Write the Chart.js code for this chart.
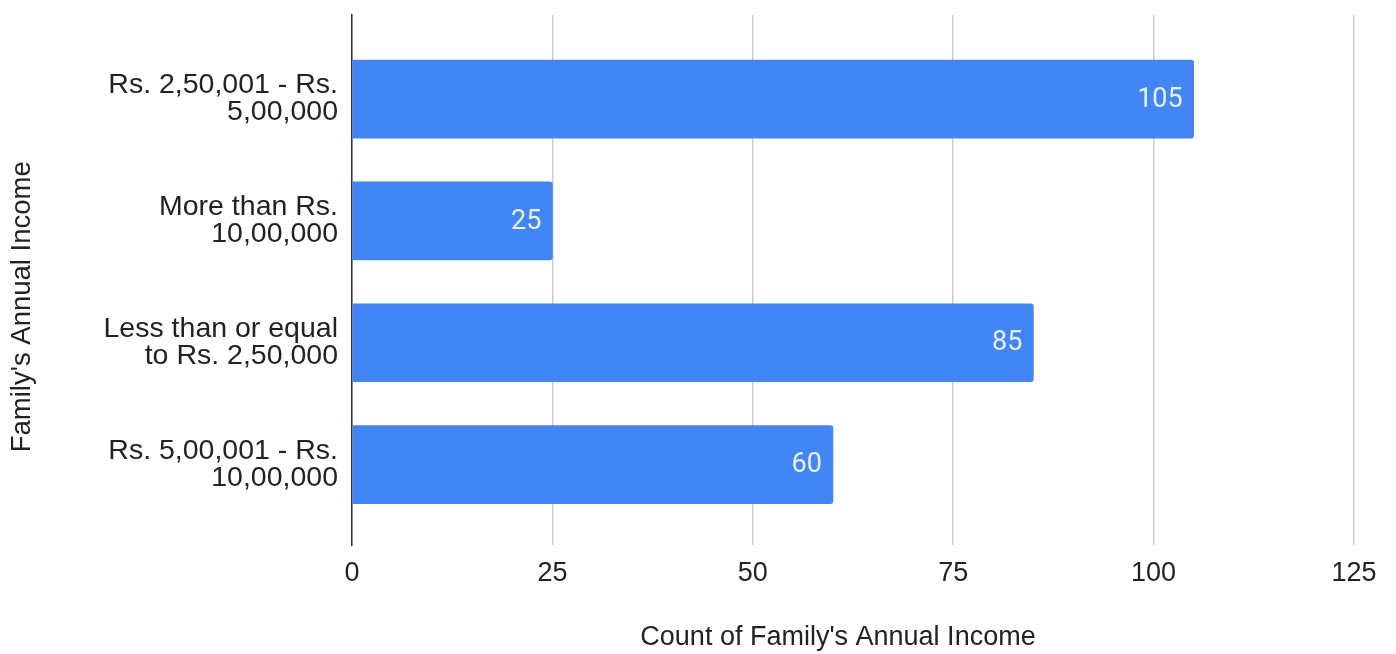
<!DOCTYPE html>
<html>
<head>
<meta charset="utf-8">
<script src="https://cdn.jsdelivr.net/npm/chart.js@4/dist/chart.umd.min.js"></script>
<style>
  html, body { margin: 0; padding: 0; background: #ffffff; }
  #wrap { width: 1396px; height: 654px; position: relative; }
</style>
</head>
<body>
<div id="wrap"><canvas id="c" width="1396" height="654"></canvas></div>
<script>
const categories = [
  "Rs. 2,50,001 - Rs. 5,00,000",
  "More than Rs. 10,00,000",
  "Less than or equal to Rs. 2,50,000",
  "Rs. 5,00,001 - Rs. 10,00,000"
];
const categoryTickLabels = [
  ["Rs. 2,50,001 - Rs.", "5,00,000"],
  ["More than Rs.", "10,00,000"],
  ["Less than or equal", "to Rs. 2,50,000"],
  ["Rs. 5,00,001 - Rs.", "10,00,000"]
];
const counts = [105, 25, 85, 60];
const xTicks = [0, 25, 50, 75, 100, 125];
const xTitle = "Count of Family's Annual Income";
const yTitle = "Family's Annual Income";

const points = categories.map((c, i) => ({ x: counts[i], y: i }));

const barLabels = {
  id: 'barLabels',
  afterDatasetsDraw(chart) {
    const ctx = chart.ctx;
    const meta = chart.getDatasetMeta(0);
    ctx.save();
    ctx.font = '27px Roboto, "Liberation Sans", Arial, sans-serif';
    ctx.fillStyle = 'rgba(255,255,255,0.88)';
    ctx.textAlign = 'right';
    ctx.textBaseline = 'middle';
    meta.data.forEach((el, i) => {
      ctx.fillText(String(counts[i]), el.x - 11, el.y + 1);
    });
    ctx.restore();
  }
};

Chart.defaults.font.family = '"Liberation Sans", Arial, sans-serif';

new Chart(document.getElementById('c'), {
  type: 'bar',
  data: {
    datasets: [{
      label: xTitle,
      data: points,
      backgroundColor: '#4285f4',
      borderWidth: 0,
      borderRadius: 3,
      barThickness: 78
    }]
  },
  plugins: [barLabels],
  options: {
    indexAxis: 'y',
    responsive: false,
    animation: false,
    maintainAspectRatio: false,
    layout: { padding: { left: 0, right: 42, top: 15, bottom: 0 } },
    plugins: {
      legend: { display: false },
      tooltip: { enabled: false }
    },
    scales: {
      x: {
        type: 'linear',
        position: 'bottom',
        min: 0,
        max: 125,
        afterBuildTicks(scale) { scale.ticks = xTicks.map(v => ({ value: v })); },
        afterFit(scale) { scale.height = 109; scale.paddingLeft = 0; scale.paddingRight = 0; },
        grid: {
          color: '#cccccc',
          lineWidth: 1.5,
          drawTicks: false
        },
        border: { display: false },
        ticks: {
          color: '#222222',
          padding: 12,
          font: { size: 27 }
        },
        title: {
          display: true,
          text: xTitle + '    ',
          color: '#222222',
          font: { size: 27 },
          padding: { top: 0, bottom: 0 }
        }
      },
      y: {
        type: 'linear',
        position: 'left',
        reverse: true,
        offset: false,
        min: -0.69,
        max: 3.66,
        afterBuildTicks(scale) { scale.ticks = categories.map((c, i) => ({ value: i })); },
        afterFit(scale) { scale.width = 352; scale.paddingTop = 0; scale.paddingBottom = 0; },
        grid: { display: false, drawTicks: false, offset: false },
        border: { display: true, color: '#333333', width: 1.5 },
        ticks: {
          color: '#222222',
          padding: 14,
          font: { size: 28.5, lineHeight: 0.95 },
          callback: (v) => categoryTickLabels[v] || ''
        },
        title: {
          display: true,
          text: yTitle + '       ',
          color: '#222222',
          font: { size: 27.5 },
          padding: { top: 6, bottom: 0 }
        }
      }
    }
  }
});
</script>
</body>
</html>
